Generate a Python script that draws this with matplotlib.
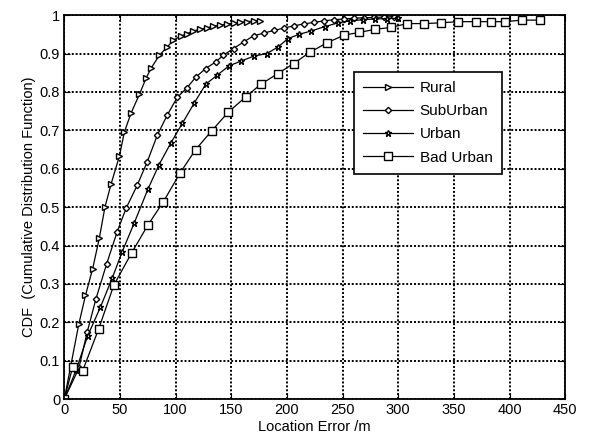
import matplotlib
matplotlib.use('Agg')
import matplotlib.pyplot as plt

plt.rcParams['font.family'] = ['Liberation Sans', 'DejaVu Sans']

# data
rural_x = [0, 13, 19, 25.5, 31.5, 36.5, 42, 49.5, 54, 60, 67.5, 73.5, 78, 85.5, 92.5,
           98, 104.5, 110.5, 116, 122, 128, 134, 140, 146, 152, 158, 164, 170, 176]
rural_y = [0, 0.195, 0.27, 0.34, 0.42, 0.50, 0.56, 0.633, 0.696, 0.745, 0.794, 0.836,
           0.862, 0.896, 0.917, 0.935, 0.945, 0.952, 0.959, 0.963, 0.967, 0.971, 0.974,
           0.977, 0.979, 0.981, 0.983, 0.985, 0.986]

sub_x = [0, 13, 20.5, 28.5, 38, 47.5, 55.5, 65.5, 74.5, 83.5, 92.5, 101.5, 110, 118,
         127, 136, 143, 152, 161, 170, 179, 188, 197, 206, 215, 224, 233, 242, 251,
         260, 269, 278, 287, 296]
sub_y = [0, 0.08, 0.174, 0.262, 0.352, 0.436, 0.497, 0.557, 0.618, 0.687, 0.74, 0.786,
         0.81, 0.838, 0.861, 0.878, 0.896, 0.913, 0.93, 0.946, 0.953, 0.96, 0.966, 0.972,
         0.977, 0.981, 0.985, 0.988, 0.99, 0.992, 0.993, 0.994, 0.995, 0.996]

urban_x = [0, 10.5, 21, 32.5, 43, 52, 63, 75, 85, 95.5, 106, 116.5, 127, 137.5, 148,
           158.5, 170, 182, 192, 201, 211, 222, 234, 246, 257, 268, 279, 290, 300]
urban_y = [0, 0.075, 0.165, 0.24, 0.315, 0.384, 0.46, 0.546, 0.61, 0.666, 0.718, 0.77,
           0.82, 0.844, 0.868, 0.88, 0.893, 0.90, 0.917, 0.939, 0.95, 0.959, 0.97, 0.98,
           0.985, 0.988, 0.99, 0.991, 0.992]

bad_x = [0, 7.5, 16.5, 31, 44.5, 60.5, 75, 89, 104, 118, 132.5, 147.5, 163, 176.5, 192,
         206, 220.5, 236, 251.5, 265, 279, 293.5, 308, 323.5, 338.5, 354, 369.5, 383,
         396, 411, 427]
bad_y = [0, 0.084, 0.074, 0.184, 0.297, 0.381, 0.453, 0.514, 0.589, 0.65, 0.699, 0.748,
         0.787, 0.82, 0.848, 0.874, 0.903, 0.928, 0.948, 0.955, 0.963, 0.968, 0.978,
         0.978, 0.98, 0.983, 0.983, 0.983, 0.983, 0.987, 0.987]

names = ['Rural', 'SubUrban', 'Urban', 'Bad Urban']
markers = ['>', 'D', '*', 's']
msizes = [4, 3.2, 5, 5.5]

fig = plt.figure(figsize=(5.9, 4.45), dpi=100)
ax = fig.add_axes([0.109, 0.103, 0.849, 0.863])

series = [(rural_x, rural_y), (sub_x, sub_y), (urban_x, urban_y), (bad_x, bad_y)]
for (xs, ys), name, m, ms in zip(series, names, markers, msizes):
    ax.plot(xs, ys, color='black', linewidth=0.9, marker=m, markersize=ms,
            markerfacecolor='white', markeredgecolor='black', markeredgewidth=1.0,
            label=name)

ax.set_xlim(0, 450)
ax.set_ylim(0, 1)
ax.set_xticks(range(0, 451, 50))
ax.set_yticks([i / 10 for i in range(11)])
ax.set_yticklabels(['0', '0.1', '0.2', '0.3', '0.4', '0.5', '0.6', '0.7', '0.8', '0.9', '1'])
ax.tick_params(direction='in', top=True, right=True, labelsize=10.5, length=4, pad=3)
ax.grid(True, color='black', linestyle=(0, (1, 1)), linewidth=1.4)
for spine in ax.spines.values():
    spine.set_linewidth(1.3)

ax.set_xlabel('Location Error /m', fontsize=10.5, labelpad=2)
ax.set_ylabel('CDF  (Cumulative Distribution Function)', fontsize=10.5, labelpad=3)

leg = ax.legend(loc='upper left', bbox_to_anchor=(0.578, 0.852), fontsize=11,
                handlelength=3.3, handletextpad=0.4, borderpad=0.6, labelspacing=0.6,
                borderaxespad=0, fancybox=False, framealpha=1, edgecolor='black')
leg.get_frame().set_linewidth(1.2)

fig.savefig('out.png', dpi=100)
